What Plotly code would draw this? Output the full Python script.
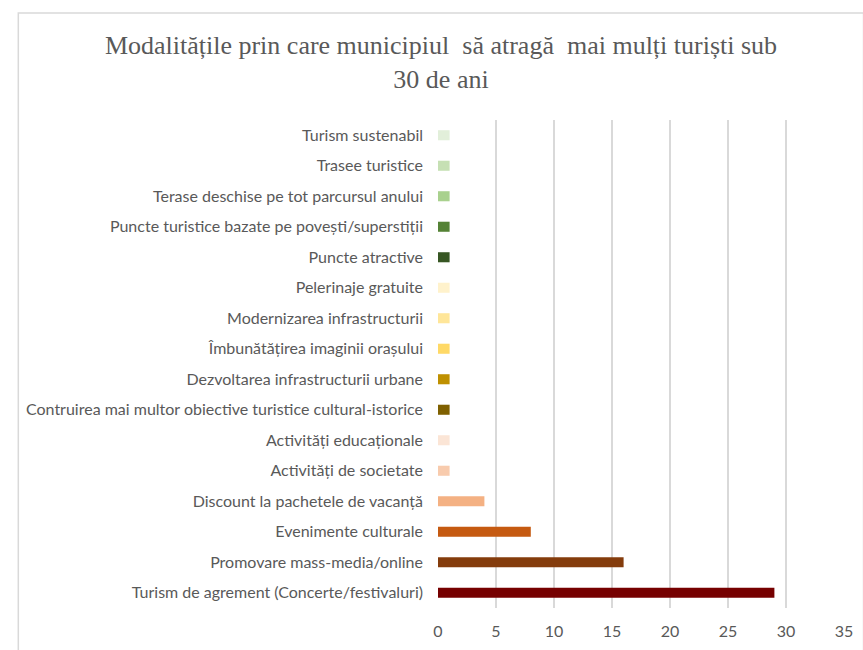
import plotly.graph_objects as go

# Categories listed bottom to top
categories = [
    "Turism de agrement (Concerte/festivaluri)",
    "Promovare mass-media/online",
    "Evenimente culturale",
    "Discount la pachetele de vacanță",
    "Activități de societate",
    "Activități educaționale",
    "Contruirea mai multor obiective turistice cultural-istorice",
    "Dezvoltarea infrastructurii urbane",
    "Îmbunătățirea imaginii orașului",
    "Modernizarea infrastructurii",
    "Pelerinaje gratuite",
    "Puncte atractive",
    "Puncte turistice bazate pe povești/superstiții",
    "Terase deschise pe tot parcursul anului",
    "Trasee turistice",
    "Turism sustenabil",
]
values = [29, 16, 8, 4, 1, 1, 1, 1, 1, 1, 1, 1, 1, 1, 1, 1]
bar_colors = [
    "#760000", "#843C0C", "#C55A11", "#F4B183", "#F8CBAD", "#FBE5D6",
    "#7F6000", "#BF9000", "#FFD966", "#FFE699", "#FFF2CC",
    "#375623", "#548235", "#A9D18E", "#C6E0B4", "#E2EFDA",
]
x_ticks = [0, 5, 10, 15, 20, 25, 30, 35]

title_text = ("Modalitățile prin care municipiul  să atragă  mai mulți turiști sub"
              "<br>30 de ani")

W, H = 863, 650
L, R, T, B = 438, 10, 120, 42
pw, ph = W - L - R, H - T - B

fig = go.Figure(go.Bar(
    x=values,
    y=categories,
    orientation="h",
    marker=dict(color=bar_colors, line=dict(width=0)),
    hoverinfo="x+y",
))

# chart-area border (left/top visible, runs off the right and bottom)
fig.add_shape(
    type="rect", xref="paper", yref="paper",
    x0=(9 - L) / pw, x1=(W + 10 - L) / pw,
    y0=-(B + 10) / ph, y1=(H - B - 13) / ph,
    line=dict(color="#D9D9D9", width=1.5), fillcolor="rgba(0,0,0,0)",
    layer="below",
)

fig.update_layout(
    width=W, height=H,
    margin=dict(l=L, r=R, t=T, b=B),
    paper_bgcolor="white", plot_bgcolor="white",
    bargap=0.67,
    showlegend=False,
    title=dict(
        text=title_text,
        x=441 / W, xref="container", xanchor="center",
        y=1 - 54 / H, yref="container", yanchor="middle",
        font=dict(family="Liberation Serif", size=26, color="#595959"),
    ),
    xaxis=dict(
        range=[0, 35], tickvals=x_ticks,
        showgrid=True, gridcolor="#D9D9D9", gridwidth=1.5,
        zeroline=False, showline=False,
        tickfont=dict(family="Lato", size=16, color="#595959"),
        ticklabelstandoff=12,
        fixedrange=True,
    ),
    yaxis=dict(
        categoryorder="array", categoryarray=categories,
        showgrid=False, zeroline=False,
        showline=False,
        tickfont=dict(family="Lato", size=16, color="#595959"),
        ticklabelstandoff=14,
        fixedrange=True,
    ),
)

fig.write_html("out.html")
